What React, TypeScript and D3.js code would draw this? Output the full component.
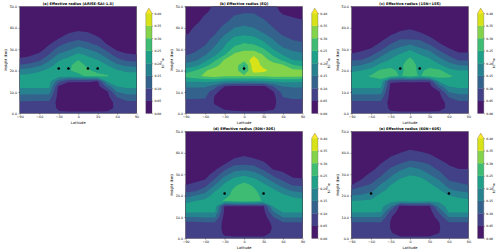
import React, { useEffect, useRef } from 'react';
import * as d3 from 'd3';

const FONT = 'DejaVu Sans';

// grid of the model output
const LATS = [-90, -75, -60, -45, -30, -15, 0, 15, 30, 45, 60, 75, 90];
const HEIGHTS = [0, 2.5, 5, 7.5, 10, 12.5, 15, 17.5, 20, 22.5, 25, 27.5, 30, 32.5, 35, 37.5, 40, 42.5, 45, 47.5, 50];
const LEVELS = [0, 0.05, 0.1, 0.15, 0.2, 0.25, 0.3, 0.35, 0.4];
const LAT_TICKS = [-90, -60, -30, 0, 30, 60, 90];
const HEIGHT_TICKS = [0, 10, 20, 30, 40, 50];

// effective radius in 0.01 um, one list per latitude, heights 0 -> 50 km
const REFF_A = [
  [7, 8, 9, 13, 17, 21, 22, 21, 16.5, 10.5, 6, 3, 2, 2, 1.5, 1.5, 1, 1, 1, 1, 1],
  [7, 8, 9, 13, 17, 21, 22, 21.5, 17.5, 11.5, 7, 4, 2, 1.5, 1.5, 1, 1, 1, 1, 1, 1],
  [7, 8, 9, 12.5, 17, 21, 22.5, 22.5, 19, 14, 9, 6, 3, 2, 1.5, 1.5, 1, 1, 1, 1, 1],
  [7, 8, 9, 12.5, 17, 21, 22, 23, 21.5, 18, 14, 10, 7, 4.5, 3, 2, 1.5, 1, 1, 1, 1],
  [6, 4, 3, 3, 3, 4, 12, 22, 24, 22, 19.5, 15.5, 12, 8.5, 5, 3, 2, 1.5, 1, 1, 1],
  [6, 3, 2, 2, 2, 3, 5.5, 23, 24.5, 24, 22, 18, 14, 11, 7.5, 5, 3, 2, 1.5, 1, 1],
  [6, 3, 2, 2, 2, 3, 5.5, 23.5, 26.5, 27, 25, 21, 17, 13, 9, 6, 3.5, 2, 1.5, 1, 1],
  [6, 3, 2, 2, 2, 3, 5.5, 26, 25.5, 24, 22, 19, 15, 11, 8, 5.5, 3, 2, 1.5, 1, 1],
  [6, 3, 2, 2, 2, 3, 5, 26, 24, 22, 20, 16.5, 12.5, 9, 6, 3.5, 2, 1.5, 1, 1, 1],
  [6, 3.5, 3, 3.5, 4.5, 12, 21, 25.5, 22.5, 20, 16, 12, 8.5, 4.5, 3, 2, 1.5, 1, 1, 1, 1],
  [7, 6, 6.5, 10, 15, 20, 22, 22, 20.5, 16, 11.5, 7.5, 4, 2.5, 2, 1.5, 1, 1, 1, 1, 1],
  [7, 8, 9, 12.5, 17, 21, 22, 22, 19, 14, 9, 5.5, 3, 2, 1.5, 1, 1, 1, 1, 1, 1],
  [7, 8, 9, 12.5, 17, 21, 22, 22, 19, 13, 8.5, 5, 3, 2, 1.5, 1, 1, 1, 1, 1, 1],
];

const REFF_B = [
  [7, 8, 9, 10.5, 12.5, 15.5, 20.5, 26.5, 23.5, 16.5, 13, 9.5, 8, 7, 6, 4.5, 3.5, 3, 2.5, 2, 2],
  [7, 8, 9, 10.5, 12.5, 15.5, 20.5, 28.5, 25, 18.5, 14, 11, 9, 7.5, 6.5, 6, 5.5, 4.5, 3.5, 3, 2.5],
  [7, 7.5, 8.5, 10.5, 12.5, 15.5, 21, 31, 29.5, 23, 18.5, 14.5, 11.5, 9.5, 8, 7, 6.5, 6, 5.5, 4.5, 4],
  [7, 6, 4.5, 4.5, 6, 12, 21, 32, 32, 28.5, 24, 19, 16.5, 14, 11.5, 9.5, 8, 7, 6.5, 6, 5.5],
  [6, 4.5, 3, 3, 3, 5, 19, 31, 33, 32, 30.5, 24.5, 21, 19.5, 17, 14, 11.5, 9.5, 8, 7, 6.5],
  [6, 4, 2.5, 2.5, 2.5, 3.5, 19, 31, 33.5, 34, 33, 31, 27, 23.5, 21, 18, 15, 12, 10.5, 9, 8],
  [6, 3.5, 2, 2, 2, 3, 19, 31, 24, 24, 32, 32.5, 29, 25.5, 22.5, 18.5, 16, 13.5, 11.5, 9.5, 8.5],
  [6, 3.5, 2, 2, 2, 3.5, 19, 31, 37.5, 39, 37.5, 34, 28.5, 24.5, 21, 18.5, 15, 12.5, 11, 9.5, 8.5],
  [6, 3.5, 2, 2, 2.5, 3.5, 19, 31, 36.5, 33, 32, 29.5, 25.5, 21.5, 18.5, 15, 13, 11, 9.5, 8, 7],
  [6, 4.5, 3.5, 3.5, 4.5, 10, 20.5, 31.5, 33, 32, 28, 24, 20, 17, 14.5, 12, 10, 8.5, 7, 6, 5.5],
  [7, 7.5, 8.5, 10, 12, 15, 21, 31.5, 32, 30.5, 24, 19.5, 16, 13, 11, 9, 7.5, 6.5, 5.5, 4.5, 4],
  [7, 8, 9, 10.5, 12.5, 15.5, 21, 31.5, 31.5, 25.5, 20, 17, 14, 11, 9.5, 8, 7, 6, 5, 4, 3.5],
  [7, 8, 9, 10.5, 12.5, 15.5, 21, 31, 31, 23.5, 19, 16, 13, 10.5, 9, 7.5, 6.5, 5.5, 4.5, 3.5, 3],
];

const REFF_C = [
  [7, 8, 9, 12.5, 17, 21, 22, 22, 19, 14, 9.5, 5.5, 3, 2, 1.5, 1, 1, 1, 1, 1, 1],
  [7, 8, 9, 12.5, 17, 21, 22.5, 24, 20, 15, 10, 6.5, 4, 2.5, 1.5, 1, 1, 1, 1, 1, 1],
  [7, 8, 9, 12.5, 17, 21, 23, 25.5, 22, 17.5, 13, 9, 5.5, 3, 2, 1.5, 1, 1, 1, 1, 1],
  [7, 8, 9, 12.5, 17, 21, 23.5, 27, 26, 21.5, 17.5, 13.5, 9, 6, 3.5, 2, 1.5, 1, 1, 1, 1],
  [6, 4, 3, 3, 3, 4, 5.5, 27.5, 27, 23, 20.5, 17.5, 14, 10, 6.5, 4, 2.5, 1.5, 1, 1, 1],
  [6, 3, 2, 2, 2, 3, 5.5, 24.5, 23.5, 24, 22, 20.5, 16.5, 13, 9.5, 6, 3.5, 2, 1.5, 1, 1],
  [6, 3, 2, 2, 2, 3, 5.5, 27, 28, 27.5, 26.5, 23, 19.5, 14.5, 9, 6.5, 4.5, 2.5, 1.5, 1, 1],
  [6, 3, 2, 2, 2, 3, 5.5, 24.5, 23.5, 23.5, 21.5, 20, 16, 12.5, 9, 5.5, 3, 2, 1.5, 1, 1],
  [6, 3, 2, 2, 2, 3, 5.5, 27.5, 27, 23, 21, 17.5, 14, 9.5, 6, 3.5, 2, 1.5, 1, 1, 1],
  [6, 3.5, 3, 3.5, 4.5, 12, 21, 27, 26, 21, 17, 13, 9, 5.5, 3, 2, 1.5, 1, 1, 1, 1],
  [7, 6, 6.5, 10, 15, 20, 22.5, 26, 22, 17, 13, 9, 5.5, 3, 2, 1.5, 1, 1, 1, 1, 1],
  [7, 8, 9, 12.5, 17, 21, 22.5, 23.5, 20, 15, 9.5, 6, 3.5, 2, 1.5, 1, 1, 1, 1, 1, 1],
  [7, 8, 9, 12.5, 17, 21, 22, 22.5, 20, 14.5, 9.5, 6, 3.5, 2, 1.5, 1, 1, 1, 1, 1, 1],
];

const REFF_D = [
  [7, 8, 9, 9.5, 15, 21, 22, 18.5, 12.5, 8, 5, 3, 2, 1.5, 1, 1, 1, 1, 1, 1, 1],
  [7, 8, 9, 9.5, 15, 21, 22, 20, 15, 9, 6, 4, 2.5, 1.5, 1, 1, 1, 1, 1, 1, 1],
  [7, 8, 9, 10, 15.5, 21, 22, 21.5, 17.5, 12.5, 8.5, 5, 3, 2, 1.5, 1, 1, 1, 1, 1, 1],
  [7, 8, 9, 10, 15.5, 21, 22.5, 23.5, 22, 19.5, 15, 10.5, 7, 4, 2.5, 1.5, 1, 1, 1, 1, 1],
  [6, 4, 3, 3, 3, 4, 4.5, 25.5, 23.5, 22, 21, 17.5, 13, 9, 4.5, 2.5, 1.5, 1, 1, 1, 1],
  [6, 3, 2, 2, 2, 3, 4.5, 26, 26.5, 26, 24, 21.5, 17.5, 13, 8.5, 5, 3, 2, 1.5, 1, 1],
  [6, 3, 2, 2, 2, 3, 4.5, 27, 28.5, 28, 27, 22.5, 19, 13.5, 9, 6, 3.5, 2, 1.5, 1, 1],
  [6, 3, 2, 2, 2, 3, 4.5, 26.5, 27, 26, 24, 21, 17, 12.5, 8.5, 5, 3, 2, 1.5, 1, 1],
  [6, 3, 2, 2, 2.5, 3.5, 5, 24.5, 23.5, 22, 21, 17.5, 13.5, 9, 6, 3.5, 2, 1.5, 1, 1, 1],
  [7, 6, 5.5, 6.5, 10, 15, 20.5, 22.5, 22, 21, 17.5, 12.5, 8.5, 4.5, 2.5, 1.5, 1, 1, 1, 1, 1],
  [7, 8, 9, 10, 15.5, 21, 22, 22, 21, 17, 12.5, 9, 6, 3.5, 2, 1.5, 1, 1, 1, 1, 1],
  [7, 8, 9, 10, 15.5, 21, 22, 22, 19, 14, 9.5, 6, 3.5, 2, 1.5, 1, 1, 1, 1, 1, 1],
  [7, 8, 9, 10, 15.5, 21, 22, 21.5, 18, 13, 9, 5.5, 3, 2, 1.5, 1, 1, 1, 1, 1, 1],
];

const REFF_E = [
  [7, 8, 9, 10, 15, 21, 22, 20, 15, 10.5, 5, 3, 2, 1.5, 1, 1, 1, 1, 1, 1, 1],
  [7, 8, 9, 10, 15, 21, 22, 20.5, 15.5, 12, 9, 5, 3, 2, 1.5, 1, 1, 1, 1, 1, 1],
  [7, 8, 9, 10, 15, 21, 22, 21, 17.5, 13.5, 10.5, 8, 6, 3.5, 2, 1.5, 1, 1, 1, 1, 1],
  [7, 8, 9, 10, 15, 20.5, 21.5, 22, 21.5, 18.5, 15.5, 11.5, 9, 7, 5, 3, 2, 1.5, 1, 1, 1],
  [6.5, 5.5, 4.8, 4.8, 5.5, 9, 16, 21.5, 22, 21.5, 20, 16.5, 13.5, 10.5, 8, 5.5, 3.5, 2, 1.5, 1, 1],
  [6, 3, 2, 2, 2, 2.5, 3.5, 21, 22.5, 22.5, 22, 20.5, 17.5, 14, 10, 7.5, 5, 3, 2, 1.5, 1],
  [6, 3, 2, 2, 2, 2.5, 4, 21.5, 23, 23.5, 23, 22, 19.5, 16.5, 12, 8.5, 6.5, 4, 2.5, 1.5, 1],
  [6, 3, 2, 2, 2, 2.5, 4, 21.5, 23, 23, 22.5, 21.5, 18.5, 15, 11, 8, 5.5, 3.5, 2, 1.5, 1],
  [6, 3, 2, 2, 2.5, 3, 4.5, 21, 22, 22, 21, 18.5, 15, 12, 9.5, 7, 4.5, 3, 2, 1.5, 1],
  [6.5, 5, 4.5, 5, 7, 11, 17, 21, 21.5, 20.5, 18, 14.5, 11.5, 9, 7, 4.5, 3, 2, 1.5, 1, 1],
  [7, 8, 9, 10, 15, 21, 22, 21.5, 20, 16, 12.5, 9.5, 7.5, 6, 4.5, 3, 2, 1.5, 1, 1, 1],
  [7, 8, 9, 10, 15, 21, 22, 21.5, 19, 14, 11, 8.5, 7, 5, 3.5, 2, 1.5, 1, 1, 1, 1],
  [7, 8, 9, 10, 15, 21, 22, 21, 18, 13, 10, 8, 6.5, 5, 3.5, 2.5, 1.5, 1, 1, 1, 1],
];

// injection sites (latitude), all at 21 km
const SITES_A = [-30, -15, 15, 30];
const SITES_B = [0];
const SITES_C = [-15, 15];
const SITES_D = [-30, 30];
const SITES_E = [-60, 60];
const SITE_HEIGHT = 21;

const PANELS = [
  { title: '(a) Effective radius (ARISE-SAI-1.5)', reff: REFF_A, sites: SITES_A, col: 0, row: 0 },
  { title: '(b) Effective radius (EQ)', reff: REFF_B, sites: SITES_B, col: 1, row: 0 },
  { title: '(c) Effective radius (15N+15S)', reff: REFF_C, sites: SITES_C, col: 2, row: 0 },
  { title: '(d) Effective radius (30N+30S)', reff: REFF_D, sites: SITES_D, col: 1, row: 1 },
  { title: '(e) Effective radius (60N+60S)', reff: REFF_E, sites: SITES_E, col: 2, row: 1 },
];

// layout
const COL_X = [19.8, 185.7, 351.6];
const ROW_Y = [6.5, 131.5];
const PLOT_W = 116.8;
const PLOT_H = 106.8;

function bandColor(k: number) {
  const n = LEVELS.length - 1;
  return k < n ? d3.interpolateViridis((k + 0.5) / n) : d3.interpolateViridis(1);
}

function drawPanel(root: any, p: any, idx: number) {
  const left = COL_X[p.col], top = ROW_Y[p.row];
  const x = d3.scaleLinear().domain([-90, 90]).range([left, left + PLOT_W]);
  const y = d3.scaleLinear().domain([0, 50]).range([top + PLOT_H, top]);

  const n = LATS.length, m = HEIGHTS.length;
  const grid: number[] = new Array(n * m);
  p.reff.forEach((col: number[], i: number) => col.forEach((v, j) => { grid[i + j * n] = v / 100; }));

  // d3.contours puts sample i at i + 0.5
  const gx = d3.scaleLinear().domain([0.5, n - 0.5]).range([x(LATS[0]), x(LATS[n - 1])]);
  const gy = d3.scaleLinear().domain([0.5, m - 0.5]).range([y(HEIGHTS[0]), y(HEIGHTS[m - 1])]);
  const path = d3.geoPath(d3.geoTransform({
    point: function (this: any, px: number, py: number) { this.stream.point(gx(px), gy(py)); }
  }));
  const bands = d3.contours().size([n, m]).thresholds(LEVELS)(grid);

  const clipId = 'clip-' + idx;
  root.append('clipPath').attr('id', clipId)
    .append('rect').attr('x', left).attr('y', top).attr('width', PLOT_W).attr('height', PLOT_H);

  root.append('g').attr('clip-path', `url(#${clipId})`)
    .selectAll('path').data(bands).join('path')
    .attr('d', path as any)
    .attr('fill', (d: any, k: number) => bandColor(k));

  // sites
  root.append('g').selectAll('circle').data(p.sites).join('circle')
    .attr('cx', (d: number) => x(d)).attr('cy', y(SITE_HEIGHT)).attr('r', 1.3).attr('fill', '#000');

  root.append('rect').attr('x', left).attr('y', top).attr('width', PLOT_W).attr('height', PLOT_H)
    .attr('fill', 'none').attr('stroke', '#333').attr('stroke-width', 0.4);

  const xAxis = root.append('g').attr('transform', `translate(0,${top + PLOT_H})`)
    .call(d3.axisBottom(x).tickValues(LAT_TICKS).tickFormat(d3.format('d')).tickSize(1.4).tickPadding(1.3));
  const yAxis = root.append('g').attr('transform', `translate(${left},0)`)
    .call(d3.axisLeft(y).tickValues(HEIGHT_TICKS).tickFormat(d3.format('.1f')).tickSize(1.4).tickPadding(1.3));
  [xAxis, yAxis].forEach((a) => {
    a.attr('font-size', 3.3).attr('font-family', FONT);
    a.select('.domain').remove();
    a.selectAll('line').attr('stroke-width', 0.35);
  });

  root.append('text').attr('x', left + PLOT_W / 2).attr('y', top - 1.4)
    .attr('text-anchor', 'middle').attr('font-family', FONT).attr('font-size', 3.6)
    .attr('font-weight', 'bold').text(p.title);
  root.append('text').attr('x', left + PLOT_W / 2).attr('y', top + PLOT_H + 10.2)
    .attr('text-anchor', 'middle').attr('font-family', FONT).attr('font-size', 3.6)
    .text('Latitude');
  root.append('text')
    .attr('transform', `translate(${left - 13.6},${top + PLOT_H / 2}) rotate(-90)`)
    .attr('text-anchor', 'middle').attr('dominant-baseline', 'central')
    .attr('font-family', FONT).attr('font-size', 3.6).text('Height (km)');

  // colorbar
  const cbL = left + PLOT_W + 9.2, cbW = 6.2;
  const cbTop = top + 6.6, cbBot = top + PLOT_H, tri = 5;
  const yc = d3.scaleLinear().domain([LEVELS[0], LEVELS[LEVELS.length - 1]]).range([cbBot, cbTop]);
  root.append('g').selectAll('rect').data(d3.pairs(LEVELS)).join('rect')
    .attr('x', cbL).attr('y', (d: number[]) => yc(d[1]))
    .attr('width', cbW).attr('height', (d: number[]) => yc(d[0]) - yc(d[1]) + 0.2)
    .attr('fill', (d: any, k: number) => bandColor(k));
  root.append('path')
    .attr('d', `M${cbL},${cbTop + 0.2}L${cbL + cbW / 2},${cbTop - tri}L${cbL + cbW},${cbTop + 0.2}Z`)
    .attr('fill', bandColor(LEVELS.length - 1));
  root.append('path')
    .attr('d', `M${cbL},${cbBot}L${cbL},${cbTop}L${cbL + cbW / 2},${cbTop - tri}L${cbL + cbW},${cbTop}L${cbL + cbW},${cbBot}Z`)
    .attr('fill', 'none').attr('stroke', '#444').attr('stroke-width', 0.3);
  const cAxis = root.append('g').attr('transform', `translate(${cbL + cbW},0)`)
    .call(d3.axisRight(yc).tickValues(LEVELS).tickFormat(d3.format('.2f')).tickSize(1.2).tickPadding(1.2));
  cAxis.attr('font-size', 3.1).attr('font-family', FONT);
  cAxis.select('.domain').remove();
  cAxis.selectAll('line').attr('stroke-width', 0.3);

  const unit = root.append('text')
    .attr('transform', `translate(${cbL + cbW + 10.6},${(cbTop + cbBot) / 2}) rotate(-90)`)
    .attr('text-anchor', 'middle').attr('dominant-baseline', 'central')
    .attr('font-family', FONT).attr('font-size', 3.1);
  unit.append('tspan').text('10');
  unit.append('tspan').attr('dy', -1.2).attr('font-size', 2.3).text('\u22126');
  unit.append('tspan').attr('dy', 1.2).text('m');
}

export default function App() {
  const ref = useRef<SVGSVGElement>(null);

  useEffect(() => {
    if (ref.current == null) return;
    const root = d3.select(ref.current);
    root.selectAll('*').remove();
    PANELS.forEach((p, i) => drawPanel(root, p, i));
  }, []);

  return (
    <svg ref={ref} width={500} height={250}
      style={{ position: 'absolute', left: 0, top: 0, background: '#fff' }} />
  );
}
